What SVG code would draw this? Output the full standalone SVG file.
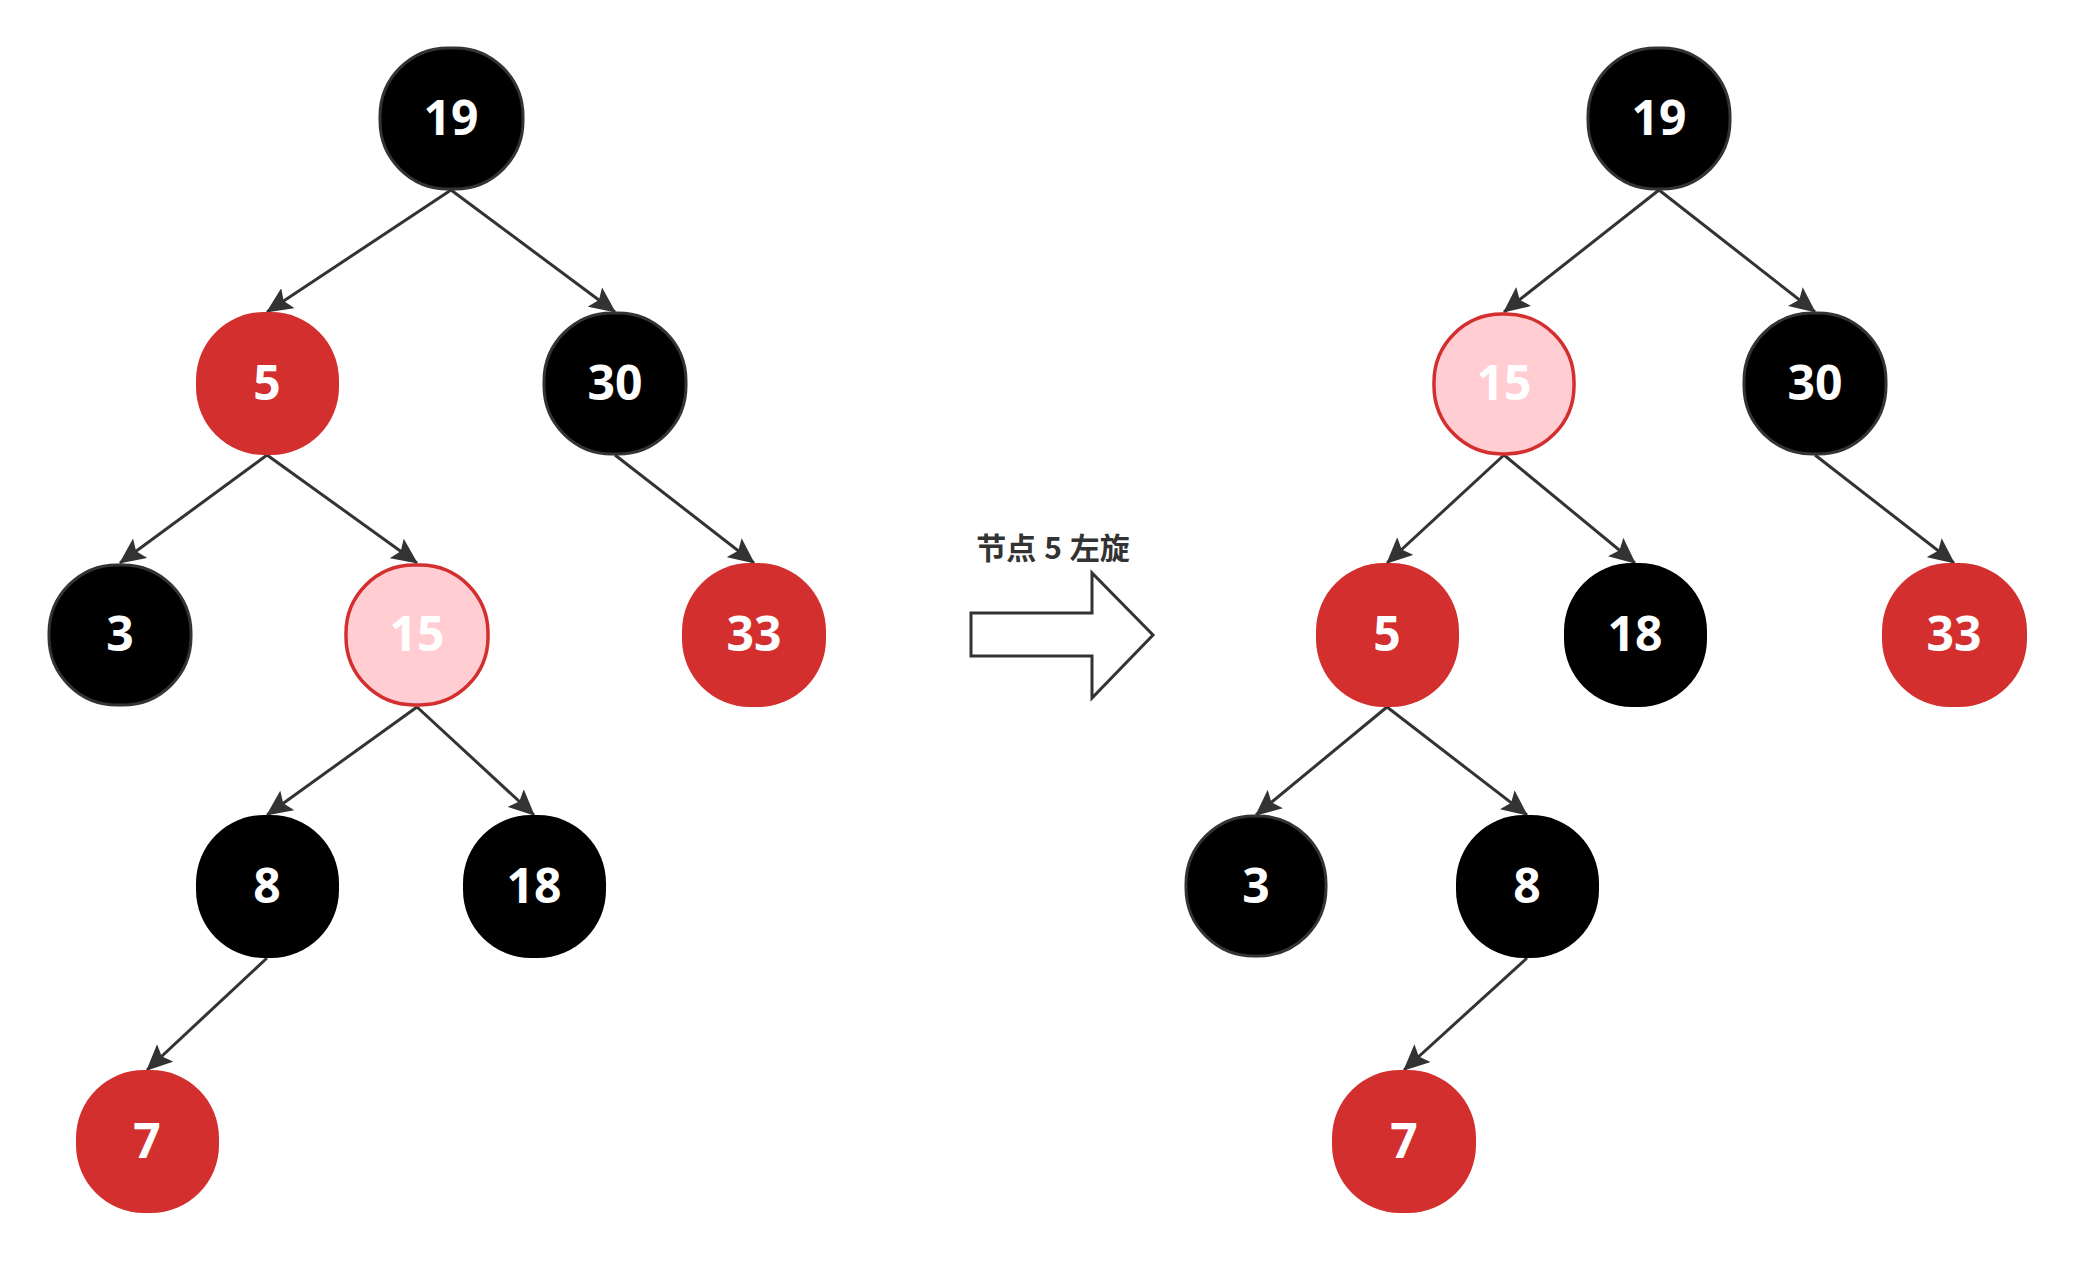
<svg xmlns="http://www.w3.org/2000/svg" width="2074" height="1262" viewBox="0 0 2074 1262">
<style>
.n rect{stroke-width:3}
.blk rect{fill:#000;stroke:#333}
.blk2 rect{fill:#000;stroke:none}
.red rect{fill:#D32F2F;stroke:none}
.pink rect{fill:#FFCDD2;stroke:#D32F2F;stroke-width:3.5}
.n text{font-family:"Open Sans","Liberation Sans",sans-serif;font-weight:bold;font-size:48px;fill:#fff;text-anchor:middle}
.e line{stroke:#333;stroke-width:3;marker-end:url(#ah)}
.lbl{font-family:"Noto Sans CJK SC","Noto Sans",sans-serif;font-weight:bold;font-size:30px;fill:#333;text-anchor:middle;word-spacing:1px}
</style>
<defs>
<marker id="ah" viewBox="0 0 26 24" refX="25" refY="12" markerWidth="26" markerHeight="24" markerUnits="userSpaceOnUse" orient="auto">
<path d="M0,0 L26,12 L0,24 L5,12 Z" fill="#333"/>
</marker>
</defs>
<rect x="0" y="0" width="2074" height="1262" fill="#fff"/>
<g id="edges" class="e">
<line x1="451" y1="190" x2="267" y2="312"/>
<line x1="451" y1="190" x2="615" y2="312"/>
<line x1="267" y1="455" x2="120" y2="563"/>
<line x1="267" y1="455" x2="417" y2="563"/>
<line x1="615" y1="455" x2="754" y2="563"/>
<line x1="417" y1="707" x2="267" y2="815"/>
<line x1="417" y1="707" x2="534" y2="815"/>
<line x1="267" y1="958" x2="147" y2="1070"/>
<line x1="1659" y1="190" x2="1504" y2="312"/>
<line x1="1659" y1="190" x2="1815" y2="312"/>
<line x1="1504" y1="455" x2="1387" y2="563"/>
<line x1="1504" y1="455" x2="1635" y2="563"/>
<line x1="1815" y1="455" x2="1954" y2="563"/>
<line x1="1387" y1="707" x2="1256" y2="815"/>
<line x1="1387" y1="707" x2="1527" y2="815"/>
<line x1="1527" y1="958" x2="1404" y2="1070"/>
</g>
<g id="L19" class="n blk"><rect x="380" y="48" width="143" height="141" rx="68"/><text x="451" y="135">19</text></g>
<g id="L5" class="n red"><rect x="196" y="312" width="143" height="143" rx="68"/><text x="267" y="400">5</text></g>
<g id="L30" class="n blk"><rect x="544" y="313" width="142" height="141" rx="68"/><text x="615" y="400">30</text></g>
<g id="L3" class="n blk"><rect x="49" y="565" width="142" height="140" rx="68"/><text x="120" y="651">3</text></g>
<g id="L15" class="n pink"><rect x="346" y="565" width="142" height="140" rx="68"/><text x="417" y="651">15</text></g>
<g id="L33" class="n red"><rect x="682" y="563" width="144" height="144" rx="68"/><text x="754" y="651">33</text></g>
<g id="L8" class="n blk2"><rect x="196" y="815" width="143" height="143" rx="68"/><text x="267" y="903">8</text></g>
<g id="L18" class="n blk2"><rect x="463" y="815" width="143" height="143" rx="68"/><text x="534" y="903">18</text></g>
<g id="L7" class="n red"><rect x="76" y="1070" width="143" height="143" rx="68"/><text x="147" y="1158">7</text></g>
<g id="R19" class="n blk"><rect x="1588" y="48" width="142" height="141" rx="68"/><text x="1659" y="135">19</text></g>
<g id="R15" class="n pink"><rect x="1434" y="314" width="140" height="140" rx="68"/><text x="1504" y="400">15</text></g>
<g id="R30" class="n blk"><rect x="1744" y="313" width="142" height="141" rx="68"/><text x="1815" y="400">30</text></g>
<g id="R5" class="n red"><rect x="1316" y="563" width="143" height="144" rx="68"/><text x="1387" y="651">5</text></g>
<g id="R18" class="n blk2"><rect x="1564" y="563" width="143" height="144" rx="68"/><text x="1635" y="651">18</text></g>
<g id="R33" class="n red"><rect x="1882" y="563" width="145" height="144" rx="68"/><text x="1954" y="651">33</text></g>
<g id="R3" class="n blk"><rect x="1186" y="816" width="140" height="140" rx="68"/><text x="1256" y="903">3</text></g>
<g id="R8" class="n blk2"><rect x="1456" y="815" width="143" height="143" rx="68"/><text x="1527" y="903">8</text></g>
<g id="R7" class="n red"><rect x="1332" y="1070" width="144" height="143" rx="68"/><text x="1404" y="1158">7</text></g>
<g id="rotate">
<text class="lbl" x="1053" y="559">节点 5 左旋</text>
<polygon points="971,613 1092,613 1092,573 1153,635 1092,698 1092,656 971,656" fill="#fff" stroke="#333" stroke-width="3"/>
</g>
</svg>
